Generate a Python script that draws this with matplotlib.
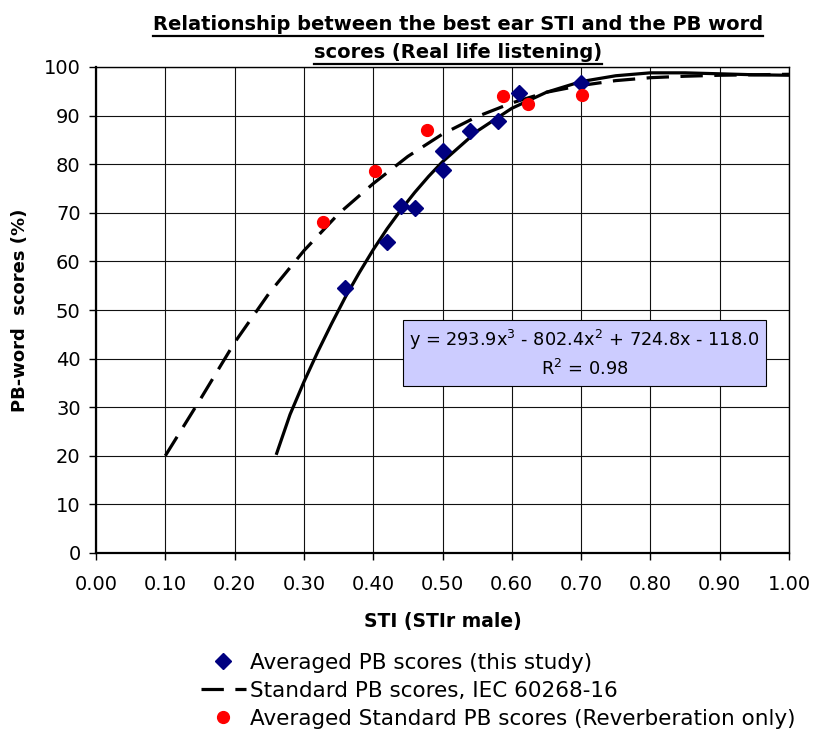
import numpy as np
import matplotlib
matplotlib.use("Agg")
import matplotlib.pyplot as plt
from matplotlib.lines import Line2D

plt.rcParams["font.family"] = ["DejaVu Sans"]
plt.rcParams["mathtext.fontset"] = "dejavusans"

# ---------------------------------------------------------------------------
# Data
# ---------------------------------------------------------------------------
# Averaged PB scores (this study) -- navy diamonds
study_sti = [0.36, 0.42, 0.44, 0.46, 0.50, 0.50, 0.54, 0.58, 0.61, 0.70]
study_pb = [54.6, 64.0, 71.5, 70.9, 78.9, 82.8, 86.8, 88.8, 94.6, 96.7]

# Averaged standard PB scores (reverberation only) -- red circles
reverb_sti = [0.327, 0.403, 0.477, 0.588, 0.624, 0.701]
reverb_pb = [68.1, 78.7, 87.1, 94.1, 92.3, 94.3]

# Standard PB scores, IEC 60268-16 -- dashed curve
iec_sti = [0.10, 0.15, 0.20, 0.25, 0.30, 0.35, 0.40, 0.45, 0.50, 0.55,
           0.60, 0.65, 0.70, 0.75, 0.80, 0.85, 0.90, 0.95, 1.00]
iec_pb = [20.0, 31.5, 43.3, 53.5, 62.2, 69.8, 76.0, 81.6, 86.2, 89.8,
          92.6, 94.8, 96.2, 97.2, 97.8, 98.1, 98.3, 98.4, 98.5]

# Polynomial trend line through this study's points -- solid curve
trend_sti = [0.26, 0.28, 0.30, 0.32, 0.34, 0.36, 0.38, 0.40, 0.42, 0.44,
             0.46, 0.48, 0.50, 0.55, 0.60, 0.65, 0.70, 0.75, 0.80, 0.85,
             0.90, 0.95, 1.00]
trend_pb = [20.2, 28.5, 35.2, 41.4, 47.2, 52.7, 57.7, 62.4, 66.7, 70.6,
            74.2, 77.5, 80.5, 86.8, 91.5, 94.8, 97.0, 98.2, 98.8, 98.8,
            98.6, 98.4, 98.3]

x_ticks = [0.0, 0.1, 0.2, 0.3, 0.4, 0.5, 0.6, 0.7, 0.8, 0.9, 1.0]
y_ticks = [0, 10, 20, 30, 40, 50, 60, 70, 80, 90, 100]

title_lines = ["Relationship between the best ear STI and the PB word",
               "scores (Real life listening)"]
eq_text = ("y = 293.9x$^{\\mathregular{3}}$ - 802.4x$^{\\mathregular{2}}$"
           " + 724.8x - 118.0\nR$^{\\mathregular{2}}$ = 0.98")

# ---------------------------------------------------------------------------
# Figure
# ---------------------------------------------------------------------------
W, H = 813, 736
fig = plt.figure(figsize=(W / 100, H / 100), dpi=100)
ax = fig.add_axes([96 / W, 1 - 553 / H, 693 / W, 486 / H])

ax.plot(trend_sti, trend_pb, color="black", lw=2.3, solid_capstyle="butt",
        zorder=3)
l_iec, = ax.plot(iec_sti, iec_pb, color="black", lw=2.3, dashes=(7.0, 3.6),
                 zorder=3, label="Standard PB scores, IEC 60268-16")
l_study, = ax.plot(study_sti, study_pb, "D", color="#000080", ms=8.5,
                   mec="#000080", zorder=4,
                   label="Averaged PB scores (this study)")
l_rev, = ax.plot(reverb_sti, reverb_pb, "o", color="#ff0000", ms=8.5,
                 mec="#ff0000", zorder=4,
                 label="Averaged Standard PB scores (Reverberation only)")

ax.set_xlim(0, 1)
ax.set_ylim(0, 100)
ax.set_xticks(x_ticks)
ax.set_xticklabels([f"{v:.2f}" for v in x_ticks])
ax.set_yticks(y_ticks)
ax.grid(True, color="#111111", lw=0.8)
ax.set_axisbelow(True)
for s in ax.spines.values():
    s.set_color("black")
    s.set_linewidth(1.0)
ax.spines["bottom"].set_linewidth(1.6)
ax.spines["left"].set_linewidth(1.6)
ax.tick_params(axis="both", direction="out", length=5, width=1,
               labelsize=14, colors="black")
ax.tick_params(axis="x", pad=11)
ax.tick_params(axis="y", pad=6)

ax.set_xlabel("STI (STIr male)", fontsize=13.5, fontweight="bold", labelpad=13)
ax.set_ylabel("PB-word  scores (%)", fontsize=13, fontweight="bold",
              labelpad=11)

ax.text(0.7045, 41.0, eq_text, ha="center", va="center", fontsize=12.8,
        multialignment="center", zorder=6, linespacing=1.45,
        bbox=dict(boxstyle="square,pad=0.36", facecolor="#ccccff",
                  edgecolor="black", lw=0.8))

# title, bold and underlined
title_y = [1 - 25 / H, 1 - 53 / H]
title_objs = []
for line, ty in zip(title_lines, title_y):
    t = fig.text(458 / W, ty, line, ha="center", va="center", fontsize=14,
                 fontweight="bold")
    title_objs.append(t)
fig.canvas.draw()
renderer = fig.canvas.get_renderer()
for t in title_objs:
    bb = t.get_window_extent(renderer).transformed(fig.transFigure.inverted())
    fig.add_artist(Line2D([bb.x0, bb.x1], [bb.y0 - 1 / H, bb.y0 - 1 / H],
                          color="black", lw=1.6,
                          transform=fig.transFigure))

fig.legend(handles=[l_study, l_iec, l_rev], loc="upper left",
           bbox_to_anchor=(192 / W, 1 - 644 / H), frameon=False,
           fontsize=15.5, handlelength=2.1, handletextpad=0.2,
           labelspacing=0.38, borderaxespad=0)

fig.savefig("out.png", dpi=100, facecolor="white")
